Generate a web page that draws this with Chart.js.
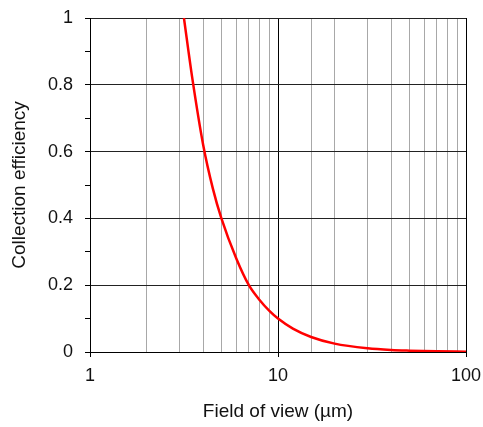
<!DOCTYPE html>
<html>
<head>
<meta charset="utf-8">
<script src="https://cdn.jsdelivr.net/npm/chart.js@4/dist/chart.umd.min.js"></script>
<style>
  html, body { margin: 0; padding: 0; background: #fff; }
  #wrap { width: 483px; height: 427px; }
</style>
</head>
<body>
<div id="wrap"><canvas id="myChart" width="483" height="427"></canvas></div>
<script>
// field of view (µm) vs collection efficiency
const fieldOfView = [3.16, 3.5, 4, 4.5, 5, 6, 7, 8, 9, 10, 12, 15, 20, 30, 40, 50, 70, 100];
const efficiency  = [1.0, 0.82, 0.62, 0.49, 0.40, 0.28, 0.20, 0.155, 0.123, 0.10, 0.07, 0.045, 0.025, 0.011, 0.006, 0.004, 0.002, 0.001];
const xLabels = [1, 10, 100];
const yLabels = [0, 0.2, 0.4, 0.6, 0.8, 1];

const points = fieldOfView.map((x, i) => ({ x: x, y: efficiency[i] }));

const isMajorX = v => xLabels.some(m => Math.abs(m - v) < 1e-9);
const isLabelY = v => yLabels.some(m => Math.abs(m - v) < 1e-9);

Chart.defaults.font.family = "'Liberation Sans', Arial, sans-serif";
Chart.defaults.color = '#111';

const ctx = document.getElementById('myChart').getContext('2d');
new Chart(ctx, {
  type: 'line',
  data: {
    datasets: [{
      data: points,
      borderColor: '#ff0000',
      borderWidth: 2.5,
      pointRadius: 0,
      fill: false,
      cubicInterpolationMode: 'monotone'
    }]
  },
  options: {
    responsive: false,
    animation: false,
    layout: { padding: { top: 18, right: 17, left: 0, bottom: 0 } },
    plugins: { legend: { display: false }, tooltip: { enabled: false } },
    scales: {
      x: {
        type: 'logarithmic',
        min: 1,
        max: 100,
        border: { color: '#000', width: 1 },
        grid: {
          color: c => isMajorX(c.tick.value) ? '#000' : '#a8a8a8',
          tickColor: c => isMajorX(c.tick.value) ? '#000' : 'rgba(0,0,0,0)',
          tickLength: 5,
          lineWidth: 1
        },
        ticks: {
          autoSkip: false,
          maxRotation: 0,
          padding: 8,
          font: { size: 18 },
          color: '#111',
          callback: v => isMajorX(v) ? String(v) : ''
        },
        title: {
          display: true,
          text: 'Field of view (µm)',
          font: { size: 19 },
          color: '#111',
          padding: { top: 0, bottom: 4 }
        },
        afterFit: s => {
          s.height = 75;
          s.paddingLeft = 0;
          s.paddingRight = 0;
        }
      },
      y: {
        min: 0,
        max: 1,
        border: { color: '#000', width: 1 },
        grid: {
          color: c => isLabelY(c.tick.value) ? '#222' : 'rgba(0,0,0,0)',
          tickColor: '#000',
          tickLength: 5,
          lineWidth: 1
        },
        ticks: {
          stepSize: 0.1,
          autoSkip: false,
          padding: 12,
          font: { size: 18 },
          color: '#111',
          callback: v => isLabelY(v) ? String(Math.round(v * 10) / 10) : ''
        },
        title: {
          display: true,
          text: 'Collection efficiency',
          font: { size: 19 },
          color: '#111',
          padding: { top: 8, bottom: 0 }
        },
        afterFit: s => {
          s.width = 90;
          s.paddingTop = 0;
          s.paddingBottom = 0;
        }
      }
    }
  }
});
</script>
</body>
</html>
